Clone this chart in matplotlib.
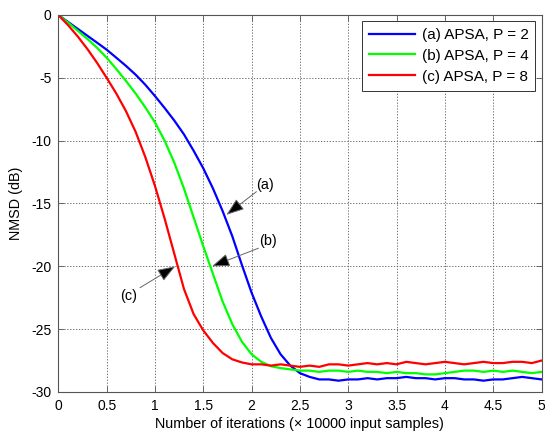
import matplotlib
matplotlib.use("Agg")
import matplotlib.pyplot as plt

plt.rcParams['font.family'] = ['Liberation Sans', 'DejaVu Sans']
plt.rcParams['axes.unicode_minus'] = False

x = [round(0.1 * i, 1) for i in range(51)]

apsa_p2 = [0, -0.55, -1.1, -1.65, -2.2, -2.76, -3.4, -4.05, -4.75, -5.55,
           -6.45, -7.4, -8.4, -9.5, -10.8, -12.2, -13.8, -15.6, -17.6, -19.9,
           -22.1, -24.0, -25.7, -27.0, -27.9, -28.5, -28.8, -29.0, -29.0, -29.1,
           -29.0, -29.0, -28.9, -29.0, -28.9, -28.9, -28.8, -28.9, -28.9, -29.0,
           -28.9, -28.9, -29.0, -29.0, -29.1, -29.0, -29.0, -28.9, -28.8, -28.9,
           -29.0]
apsa_p4 = [0, -0.6, -1.25, -1.9, -2.6, -3.4, -4.3, -5.25, -6.25, -7.35,
           -8.55, -10.0, -11.75, -13.8, -16.1, -18.4, -20.6, -22.8, -24.6, -26.0,
           -27.0, -27.6, -27.95, -28.1, -28.2, -28.3, -28.3, -28.4, -28.3, -28.3,
           -28.4, -28.3, -28.4, -28.4, -28.5, -28.4, -28.5, -28.5, -28.6, -28.6,
           -28.5, -28.4, -28.3, -28.3, -28.4, -28.3, -28.4, -28.3, -28.4, -28.5,
           -28.4]
apsa_p8 = [0, -0.8, -1.7, -2.7, -3.8, -5.0, -6.25, -7.65, -9.3, -11.3,
           -13.6, -16.2, -19.0, -21.8, -23.8, -25.1, -26.1, -26.9, -27.4, -27.65,
           -27.8, -27.8, -27.9, -27.8, -27.9, -28.0, -27.9, -28.0, -27.8, -27.8,
           -27.9, -27.8, -27.7, -27.8, -27.7, -27.8, -27.6, -27.7, -27.8, -27.7,
           -27.6, -27.7, -27.8, -27.7, -27.6, -27.7, -27.7, -27.6, -27.6, -27.7,
           -27.5]

labels = ['(a) APSA, P = 2', '(b) APSA, P = 4', '(c) APSA, P = 8']
colors = ['#0000ff', '#00ff00', '#ff0000']

xticks = [0, 0.5, 1, 1.5, 2, 2.5, 3, 3.5, 4, 4.5, 5]
xticklabels = ['0', '0.5', '1', '1.5', '2', '2.5', '3', '3.5', '4', '4.5', '5']
yticks = [-30, -25, -20, -15, -10, -5, 0]
yticklabels = ['-30', '-25', '-20', '-15', '-10', '-5', '0']

# annotation: text, text position, arrow tail, arrow head
ann_text = ['(a)', '(b)', '(c)']
ann_textpos = [(2.14, -13.5), (2.17, -18.0), (0.73, -22.4)]
ann_tail = [(2.05, -14.06), (2.07, -18.56), (0.845, -21.7)]
ann_head = [(1.74, -15.9), (1.59, -20.0), (1.21, -20.0)]

fig = plt.figure(figsize=(5.45, 4.34), dpi=100)
ax = fig.add_axes([0.107, 0.0968, 0.8866, 0.8687])

for ys, lab, c in zip([apsa_p2, apsa_p4, apsa_p8], labels, colors):
    ax.plot(x, ys, color=c, lw=1.6, label=lab)

ax.set_xlim(0, 5)
ax.set_ylim(-30, 0)
ax.set_xticks(xticks)
ax.set_xticklabels(xticklabels)
ax.set_yticks(yticks)
ax.set_yticklabels(yticklabels)
ax.tick_params(direction='in', length=4, width=0.6, color='#555555',
               labelsize=10, top=True, right=True, pad=5)
ax.grid(True, linestyle=(0, (1.5, 2)), color='#555555', lw=0.6)
for s in ax.spines.values():
    s.set_color('#555555')
    s.set_linewidth(0.8)

ax.set_xlabel('Number of iterations (× 10000 input samples)', fontsize=10.4, labelpad=3)
ax.set_ylabel('NMSD (dB)', fontsize=10.4, labelpad=6)

for t, tp, tl, hd in zip(ann_text, ann_textpos, ann_tail, ann_head):
    ax.text(tp[0], tp[1], t, fontsize=10.4, ha='center', va='center')
    ax.annotate('', xy=hd, xytext=tl,
                arrowprops=dict(arrowstyle='-|>,head_length=1.1,head_width=0.4',
                                fc='black', ec='#666666', lw=0.7,
                                shrinkA=0, shrinkB=0))

leg = ax.legend(loc='upper right', fontsize=11, frameon=True, fancybox=False,
                edgecolor='#333333', framealpha=1, handlelength=3.0,
                borderaxespad=0.4, labelspacing=0.45, handletextpad=0.45,
                borderpad=0.45)
leg.get_frame().set_linewidth(0.7)

fig.savefig('out.png', dpi=100)
